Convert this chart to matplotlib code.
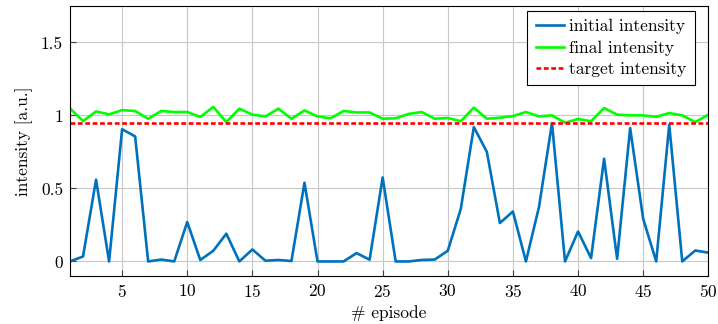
import matplotlib
matplotlib.use("Agg")
import matplotlib.pyplot as plt
from matplotlib.ticker import FixedLocator, FuncFormatter

plt.rcParams['font.family'] = 'serif'
plt.rcParams['font.serif'] = ['cmr10']
plt.rcParams['mathtext.fontset'] = 'cm'
plt.rcParams['axes.formatter.use_mathtext'] = True

# data
episodes = list(range(1, 51))
initial = [0.00, 0.034, 0.56, 0.00, 0.905, 0.856, 0.00, 0.013, 0.00, 0.27,
           0.01, 0.073, 0.19, 0.00, 0.082, 0.005, 0.01, 0.003, 0.539, 0.00,
           0.00, 0.00, 0.057, 0.012, 0.575, 0.00, 0.00, 0.01, 0.013, 0.073,
           0.36, 0.92, 0.75, 0.263, 0.342, 0.00, 0.372, 0.947, 0.00, 0.205,
           0.023, 0.703, 0.018, 0.913, 0.292, 0.00, 0.936, 0.00, 0.075, 0.06]
final = [1.048, 0.961, 1.027, 1.007, 1.036, 1.03, 0.977, 1.03, 1.023, 1.023,
         0.989, 1.058, 0.954, 1.046, 1.005, 0.993, 1.046, 0.977, 1.034, 0.993,
         0.98, 1.03, 1.02, 1.02, 0.977, 0.98, 1.01, 1.023, 0.977, 0.982,
         0.96, 1.053, 0.977, 0.984, 0.995, 1.023, 0.993, 1.0, 0.95, 0.975,
         0.96, 1.05, 1.005, 1.0, 1.0, 0.99, 1.016, 1.0, 0.954, 1.005]
target = 0.95

fig = plt.figure(figsize=(7.18, 3.24), dpi=100)
ax = fig.add_axes([0.0975, 0.148, 0.889, 0.834])

ax.plot(episodes, initial, color='#0072BD', lw=1.9, label='initial intensity')
ax.plot(episodes, final, color='#00FF00', lw=1.9, label='final intensity')
ax.axhline(target, color='#FF0000', lw=1.9, ls=(0, (1.8, 1.0)), label='target intensity')

ax.set_xlim(1, 50)
ax.set_ylim(-0.1, 1.75)
ax.xaxis.set_major_locator(FixedLocator(range(5, 51, 5)))
ax.yaxis.set_major_locator(FixedLocator([0, 0.5, 1, 1.5]))
ax.yaxis.set_major_formatter(FuncFormatter(lambda v, p: '%g' % v))
ax.grid(True, color='#c8c8c8', lw=0.8)
ax.set_axisbelow(True)
ax.tick_params(direction='in', length=4, labelsize=12.5, color='#404040', pad=5)
for s in ax.spines.values():
    s.set_linewidth(0.8)

ax.set_xlabel('# episode', fontsize=12.5, labelpad=4)
ax.set_ylabel('intensity [a.u.]', fontsize=12.5, labelpad=6)

leg = ax.legend(loc='upper right', bbox_to_anchor=(0.979, 0.981), borderaxespad=0,
                fontsize=12.5, fancybox=False, framealpha=1,
                edgecolor='black', handlelength=1.65, borderpad=0.47,
                labelspacing=0.34, handletextpad=0.3)
leg.get_frame().set_linewidth(0.8)

fig.savefig('out.png', dpi=100)
